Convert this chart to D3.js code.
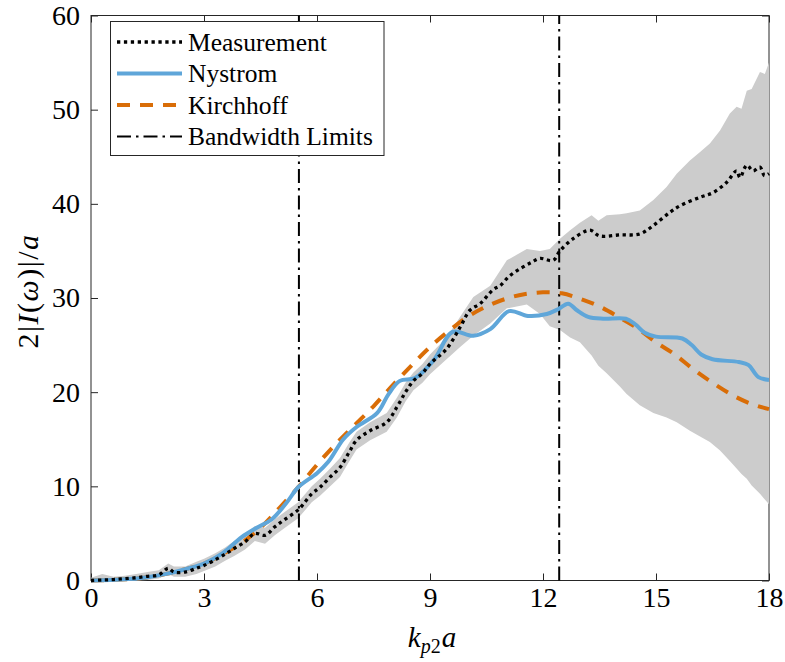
<!DOCTYPE html>
<html>
<head>
<meta charset="utf-8">
<script src="https://cdn.jsdelivr.net/npm/d3@7"></script>
<style>
  html, body { margin: 0; padding: 0; background: #fff; }
  svg { display: block; font-family: "Liberation Serif", "Times New Roman", serif; }
</style>
</head>
<body>
<svg id="chart" width="785" height="662"></svg>
<script>
// ---------------- DATA ----------------
const xTicks = [0, 3, 6, 9, 12, 15, 18];
const yTicks = [0, 10, 20, 30, 40, 50, 60];
const bandwidthLimits = [5.52, 12.43];

const measX = [0, 0.3, 0.6, 0.9, 1.2, 1.5, 1.8, 2.05, 2.2, 2.5, 2.8, 3.0, 3.3, 3.56, 3.8, 4.09, 4.35, 4.62, 4.88, 5.15, 5.5, 5.86, 6.08, 6.35, 6.61, 6.85, 7.05, 7.41, 7.85, 8.12, 8.35, 8.56, 8.8, 9.0, 9.44, 9.8, 10.06, 10.33, 10.68, 10.86, 11.1, 11.39, 11.7, 11.92, 12.27, 12.45, 12.8, 13.25, 13.5, 14.04, 14.57, 14.93, 15.37, 15.64, 16.17, 16.52, 16.88, 17.14, 17.23, 17.41, 17.58, 17.76, 17.88, 18];
const measY = [0, 0.05, 0.1, 0.2, 0.3, 0.45, 0.6, 1.3, 0.9, 0.9, 1.3, 1.6, 2.2, 2.8, 3.4, 4.1, 5.0, 4.8, 5.7, 6.5, 7.5, 9.2, 9.9, 11.0, 12.0, 13.6, 14.9, 15.9, 16.8, 18.4, 20.0, 21.2, 22.0, 23.0, 24.6, 26.9, 28.7, 29.4, 30.9, 31.3, 32.3, 33.1, 33.8, 34.2, 34.0, 35.0, 36.3, 37.2, 36.6, 36.7, 36.8, 37.7, 39.1, 39.8, 40.7, 41.2, 42.3, 43.5, 42.8, 44.1, 43.5, 43.9, 43.0, 43.2];

const bandX = [0, 0.3, 0.6, 0.9, 1.2, 1.5, 1.8, 2.05, 2.2, 2.5, 2.8, 3.0, 3.3, 3.56, 3.8, 4.09, 4.35, 4.62, 4.88, 5.15, 5.5, 5.86, 6.08, 6.35, 6.61, 6.85, 7.05, 7.41, 7.85, 8.12, 8.35, 8.56, 8.8, 9.0, 9.44, 9.8, 10.15, 10.6, 11.04, 11.57, 11.92, 12.18, 12.45, 12.72, 12.98, 13.29, 13.47, 13.69, 14.04, 14.22, 14.57, 14.93, 15.28, 15.55, 15.9, 16.17, 16.43, 16.7, 16.96, 17.14, 17.27, 17.41, 17.54, 17.76, 17.89, 18];
const bandUpper = [0.3, 0.7, 0.4, 0.5, 0.7, 0.9, 1.1, 1.8, 1.5, 1.5, 2.0, 2.3, 2.9, 3.5, 4.2, 4.9, 5.8, 5.6, 6.5, 7.3, 8.3, 10.0, 10.8, 11.9, 13.0, 14.6, 15.8, 16.8, 17.8, 19.4, 21.0, 22.1, 23.0, 24.0, 25.8, 28.0, 30.1, 31.3, 34.0, 35.2, 35.0, 35.2, 36.3, 37.2, 38.0, 38.8, 38.2, 38.8, 38.9, 39.0, 39.3, 40.4, 41.8, 43.2, 44.6, 45.5, 46.4, 47.8, 49.6, 50.3, 50.1, 52.0, 52.2, 54.0, 53.8, 55.0];
const bandLower = [0, 0, 0, 0, 0, 0.05, 0.2, 0.7, 0.4, 0.4, 0.7, 1.0, 1.5, 2.1, 2.6, 3.3, 4.2, 3.9, 4.8, 5.6, 6.6, 8.3, 9.0, 10.0, 11.0, 12.6, 13.9, 14.9, 15.8, 17.3, 19.0, 20.2, 21.0, 21.9, 23.5, 24.8, 26.0, 27.3, 28.9, 29.3, 28.3, 27.0, 26.6, 25.8, 25.3, 23.9, 22.8, 22.0, 20.6, 19.8, 18.6, 17.8, 17.3, 16.8, 15.9, 15.3, 14.7, 13.8, 12.7, 11.9, 11.3, 10.8, 10.1, 9.2, 8.6, 8.1];

const nysX = [0, 0.5, 1, 1.5, 2, 2.5, 3, 3.5, 4, 4.4, 4.8, 5.2, 5.5, 6.0, 6.3, 6.7, 7.05, 7.6, 7.9, 8.2, 8.6, 9.1, 9.6, 10.15, 10.6, 11.1, 11.6, 12.1, 12.4, 12.67, 12.9, 13.2, 13.6, 14.2, 14.45, 14.7, 15.0, 15.7, 15.95, 16.2, 16.5, 17.2, 17.45, 17.72, 18];
const nysY = [0, 0.05, 0.15, 0.35, 0.7, 1.2, 1.8, 2.9, 4.6, 5.6, 6.5, 8.3, 9.9, 11.4, 12.6, 15.0, 16.3, 17.8, 19.8, 21.2, 21.5, 23.4, 26.4, 26.0, 26.7, 28.6, 28.1, 28.3, 28.8, 29.4, 28.7, 28.0, 27.8, 27.8, 27.2, 26.3, 25.9, 25.7, 25.0, 24.0, 23.5, 23.2, 22.9, 21.6, 21.3];

const kirX = [0, 0.5, 1, 1.5, 2, 2.5, 3, 3.5, 4, 4.5, 5, 5.5, 6, 6.5, 7, 7.5, 8, 8.5, 9, 9.5, 10, 10.5, 11, 11.5, 12, 12.5, 13, 13.5, 14, 14.5, 15, 15.5, 16, 16.5, 17, 17.5, 18];
const kirY = [0, 0.05, 0.15, 0.35, 0.7, 1.2, 1.8, 2.8, 4.0, 5.6, 7.7, 9.9, 12.3, 14.5, 16.5, 18.5, 20.7, 22.8, 24.8, 26.5, 28.0, 29.1, 29.9, 30.4, 30.6, 30.5, 29.9, 29.1, 28.0, 26.8, 25.3, 24.0, 22.4, 21.0, 19.75, 18.8, 18.2];

const legendLabels = ["Measurement", "Nystrom", "Kirchhoff", "Bandwidth Limits"];

// ---------------- LAYOUT ----------------
const svg = d3.select("#chart");
const plotLeft = 91, plotRight = 769, plotTop = 15.5, plotBottom = 580.5;
const x = d3.scaleLinear().domain([0, 18]).range([plotLeft, plotRight]);
const y = d3.scaleLinear().domain([0, 60]).range([plotBottom, plotTop]);
const axisColor = "#262626";
const serif = '"Liberation Serif", "Times New Roman", serif';
const fontSize = 28;

const colors = {
  meas: "#000000",
  nys: "#5fa6d9",
  kir: "#d96d07",
  band: "#cccccc"
};

// ---------------- AXES (box with inward ticks) ----------------
const axes = svg.append("g");
const tickLen = 7;
const xb = d3.axisBottom(x).tickValues(xTicks).tickSizeInner(-tickLen).tickSizeOuter(0).tickPadding(7).tickFormat(d3.format("d"));
const xt = d3.axisTop(x).tickValues(xTicks).tickSizeInner(-tickLen).tickSizeOuter(0).tickFormat("");
const yl = d3.axisLeft(y).tickValues(yTicks).tickSizeInner(-tickLen).tickSizeOuter(0).tickPadding(11).tickFormat(d3.format("d"));
const yr = d3.axisRight(y).tickValues(yTicks).tickSizeInner(-tickLen).tickSizeOuter(0).tickFormat("");

function styleAxis(g) {
  g.attr("font-family", serif).attr("font-size", fontSize);
  g.select(".domain").remove();
  g.selectAll(".tick line").attr("stroke", axisColor).attr("stroke-width", 1);
  g.selectAll(".tick text").attr("fill", "#000").style("font-size", fontSize + "px")
    .style("font-family", serif);
}
axes.append("g").attr("transform", `translate(0,${plotBottom})`).call(xb).call(styleAxis);
axes.append("g").attr("transform", `translate(0,${plotTop})`).call(xt).call(styleAxis);
axes.append("g").attr("transform", `translate(${plotLeft},0)`).call(yl).call(styleAxis);
axes.append("g").attr("transform", `translate(${plotRight},0)`).call(yr).call(styleAxis);

axes.append("rect")
  .attr("x", plotLeft).attr("y", plotTop)
  .attr("width", plotRight - plotLeft).attr("height", plotBottom - plotTop)
  .attr("fill", "none").attr("stroke", axisColor).attr("stroke-width", 1);

// ---------------- BAND ----------------
const bandData = bandX.map((v, i) => ({ x: v, lo: bandLower[i], hi: bandUpper[i] }));
svg.append("path")
  .datum(bandData)
  .attr("fill", colors.band)
  .attr("stroke", "none")
  .attr("d", d3.area().x(d => x(d.x)).y0(d => y(d.lo)).y1(d => y(d.hi)));

// ---------------- BANDWIDTH LIMITS ----------------
svg.selectAll(".bw").data(bandwidthLimits).enter().append("line")
  .attr("x1", d => x(d)).attr("x2", d => x(d))
  .attr("y1", plotBottom).attr("y2", plotTop)
  .attr("stroke", "#000").attr("stroke-width", 2)
  .attr("stroke-dasharray", "14,5,2.5,5");

// ---------------- LINES ----------------
function series(xs, ys) { return xs.map((v, i) => ({ x: v, y: ys[i] })); }
const lineSmooth = d3.line().x(d => x(d.x)).y(d => y(d.y)).curve(d3.curveCatmullRom.alpha(0.5));

svg.append("path").datum(series(kirX, kirY))
  .attr("fill", "none").attr("stroke", colors.kir).attr("stroke-width", 4)
  .attr("stroke-dasharray", "13,10").attr("d", lineSmooth);

svg.append("path").datum(series(nysX, nysY))
  .attr("fill", "none").attr("stroke", colors.nys).attr("stroke-width", 4)
  .attr("d", lineSmooth);

svg.append("path").datum(series(measX, measY))
  .attr("fill", "none").attr("stroke", colors.meas).attr("stroke-width", 3.3)
  .attr("stroke-dasharray", "3.3,3.6").attr("d", lineSmooth);

// ---------------- AXIS TITLES ----------------
const xTitle = svg.append("text")
  .attr("x", 432).attr("y", 647)
  .attr("text-anchor", "middle")
  .style("font-family", serif)
  .style("font-size", "29px");
xTitle.append("tspan").style("font-style", "italic").text("k");
xTitle.append("tspan").attr("dy", 6).style("font-size", "20px").style("font-style", "italic").text("p");
xTitle.append("tspan").style("font-size", "20px").text("2");
xTitle.append("tspan").attr("dy", -6).attr("dx", 1).style("font-style", "italic").text("a");

const yTitle = svg.append("text")
  .attr("transform", `translate(38,291) rotate(-90)`)
  .attr("text-anchor", "middle")
  .style("font-family", serif)
  .style("font-size", "30px")
  .style("letter-spacing", "1.5px");
yTitle.append("tspan").text("2|");
yTitle.append("tspan").style("font-style", "italic").text("I");
yTitle.append("tspan").text("(");
yTitle.append("tspan").style("font-style", "italic").text("ω");
yTitle.append("tspan").text(")|/");
yTitle.append("tspan").style("font-style", "italic").text("a");

// ---------------- LEGEND ----------------
const lg = svg.append("g");
lg.append("rect").attr("x", 110.5).attr("y", 21.5).attr("width", 273.5).attr("height", 134)
  .attr("fill", "#fff").attr("stroke", axisColor).attr("stroke-width", 1);
const legendStyles = [
  { stroke: colors.meas, width: 3.3, dash: "3.3,3.6" },
  { stroke: colors.nys, width: 4, dash: null },
  { stroke: colors.kir, width: 4, dash: "13,10" },
  { stroke: "#000", width: 2, dash: "14,5,2.5,5" }
];
const legendY = [42, 73.5, 105, 136.5];
legendLabels.forEach((lab, i) => {
  const s = legendStyles[i];
  lg.append("line").attr("x1", 117).attr("x2", 182).attr("y1", legendY[i]).attr("y2", legendY[i])
    .attr("stroke", s.stroke).attr("stroke-width", s.width)
    .attr("stroke-dasharray", s.dash);
  lg.append("text").attr("x", 188).attr("y", legendY[i]).attr("dy", "0.35em")
    .style("font-family", serif)
    .style("font-size", "25.5px").text(lab);
});
</script>
</body>
</html>
